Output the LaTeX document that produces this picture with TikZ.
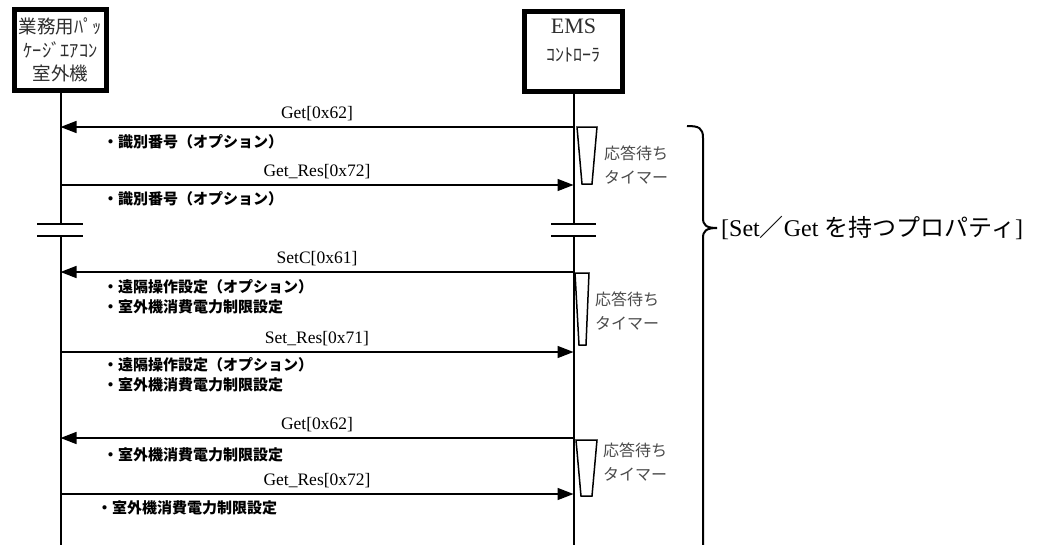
\documentclass[tikz,border=0pt]{standalone}
\usepackage{fontspec}
\setmainfont{Liberation Serif}
\newfontfamily\jp{Noto Sans CJK JP}
\usetikzlibrary{positioning,arrows.meta}
\definecolor{Ink}{HTML}{000000}
\definecolor{BoxText}{HTML}{2E2E2E}
\definecolor{TimerText}{HTML}{4A4A4A}
\tikzset{
  unit box/.style={draw=Ink,line width=5pt,fill=white,minimum width=92pt,
    minimum height=81pt,inner sep=0pt,align=center,text=BoxText},
  unit text/.style={align=center,text=BoxText,inner sep=0pt},
  life line/.style={draw=Ink,line width=2pt},
  break line/.style={draw=Ink,line width=2pt},
  msg arrow/.style={-{Triangle[length=16pt,width=12pt]},line width=1.5pt,draw=Ink},
  msg label/.style={font=\fontsize{17.5}{18}\selectfont,inner sep=0pt,midway,yshift=13pt},
  note/.style={font=\jp\bfseries\fontsize{15}{20}\selectfont,anchor=west,
    align=left,inner sep=0pt},
  timer/.style={draw=Ink,line width=1.5pt},
  timer text/.style={font=\jp\fontsize{16}{24}\selectfont,text=TimerText,
    anchor=west,align=left,inner sep=0pt},
  brace line/.style={draw=Ink,line width=2pt},
  prop text/.style={font=\fontsize{24}{28}\selectfont,anchor=west,inner sep=0pt}
}
\begin{document}
\begin{tikzpicture}[x=1pt,y=-1pt]
  \useasboundingbox (0,0) rectangle (1045,544);
  % units
  \node[unit box,font=\jp\fontsize{18.5}{23.5}\selectfont] (outdoor) at (60.5,50) {業務用ﾊﾟｯ\\ｹｰｼﾞｴｱｺﾝ\\室外機};
  \node[unit box,minimum width=98pt,minimum height=80pt] (ems) at (573.5,51.5) {};
  \node[unit text,anchor=north,font=\fontsize{22}{28}\selectfont] (emstext) at ([yshift=-10pt]ems.north) {EMS\\{\jp\fontsize{18}{28}\selectfont ｺﾝﾄﾛｰﾗ}};
  % lifelines
  \coordinate (outdoorcut) at (60.5,224);
  \coordinate (outdoorgo) at (60.5,236);
  \coordinate (outdoorend) at (60.5,546);
  \coordinate (emscut) at (573.5,224);
  \coordinate (emsgo) at (573.5,236);
  \coordinate (emsend) at (573.5,546);
  \draw[life line] (outdoor) -- (outdoorcut);
  \draw[life line] (outdoorgo) -- (outdoorend);
  \draw[life line] (ems) -- (emscut);
  \draw[life line] (emsgo) -- (emsend);
  \draw[break line] (37,224) -- (83,224);
  \draw[break line] (37,236) -- (83,236);
  \draw[break line] (551,224) -- (596,224);
  \draw[break line] (551,236) -- (596,236);
  % Get / Get_Res
  \coordinate (getR) at (573.5,127);
  \coordinate (getL) at (60.5,127);
  \coordinate (getresL) at (60.5,185);
  \coordinate (getresR) at (573.5,185);
  \draw[msg arrow] (getR) -- node[msg label] (getlabel) {Get[0x62]} (getL);
  \draw[msg arrow] (getresL) -- node[msg label] (getreslabel) {Get\_Res[0x72]} (getresR);
  \node[note] (getnote) at (103,142) {・識別番号（オプション）};
  \node[note] (getresnote) at (103,199) {・識別番号（オプション）};
  \draw[timer] (577,127) -- (597,127) -- (592,184) -- (582,184) -- cycle;
  \node[timer text] (timerone) at (604,165) {応答待ち\\タイマー};
  % SetC / Set_Res
  \coordinate (setR) at (573.5,272);
  \coordinate (setL) at (60.5,272);
  \coordinate (setresL) at (60.5,352);
  \coordinate (setresR) at (573.5,352);
  \draw[msg arrow] (setR) -- node[msg label] (setlabel) {SetC[0x61]} (setL);
  \draw[msg arrow] (setresL) -- node[msg label] (setreslabel) {Set\_Res[0x71]} (setresR);
  \node[note] (setnote) at (103,297) {・遠隔操作設定（オプション）\\・室外機消費電力制限設定};
  \node[note] (setresnote) at (103,375) {・遠隔操作設定（オプション）\\・室外機消費電力制限設定};
  \draw[timer] (575,273) -- (589,273) -- (586,345) -- (579,345) -- cycle;
  \node[timer text] (timertwo) at (595,311.5) {応答待ち\\タイマー};
  % Get / Get_Res (power limit)
  \coordinate (powerR) at (573.5,438);
  \coordinate (powerL) at (60.5,438);
  \coordinate (powerresL) at (60.5,494);
  \coordinate (powerresR) at (573.5,494);
  \draw[msg arrow] (powerR) -- node[msg label] (powerlabel) {Get[0x62]} (powerL);
  \draw[msg arrow] (powerresL) -- node[msg label] (powerreslabel) {Get\_Res[0x72]} (powerresR);
  \node[note] (powernote) at (103,455) {・室外機消費電力制限設定};
  \node[note] (powerresnote) at (97,508) {・室外機消費電力制限設定};
  \draw[timer] (576,440) -- (597,440) -- (592,496) -- (581,496) -- cycle;
  \node[timer text] (timerthree) at (603,462.5) {応答待ち\\タイマー};
  % brace
  \node[prop text] (props) at (721,228) {[Set{\jp ／}Get {\jp を持つプロパティ}]};
  \coordinate (bracetop) at (687,126);
  \coordinate (bracetip) at (717,228);
  \coordinate (braceend) at (703,546);
  \draw[brace line] (bracetop) .. controls (699,126) and (703,128) .. (703,138) -- (703,218)
    .. controls (703,225) and (706,228) .. (bracetip);
  \draw[brace line] (bracetip) .. controls (706,228) and (703,231) .. (703,238) -- (braceend);
\end{tikzpicture}
\end{document}
